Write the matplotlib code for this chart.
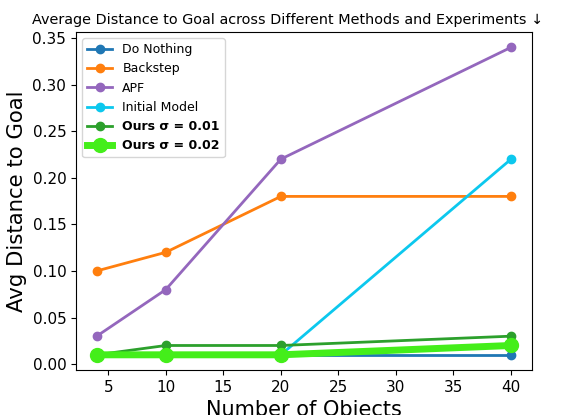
import numpy as np
import matplotlib
matplotlib.use('Agg')
import matplotlib.pyplot as plt

n_objects = [4, 10, 20, 40]
do_nothing = [0.01, 0.01, 0.01, 0.01]
backstep = [0.10, 0.12, 0.18, 0.18]
apf = [0.03, 0.08, 0.22, 0.34]
initial_model = [0.01, 0.01, 0.01, 0.22]
ours_001 = [0.01, 0.02, 0.02, 0.03]
ours_002 = [0.01, 0.01, 0.01, 0.02]

fig, ax = plt.subplots(figsize=(5.78, 4.15), dpi=100)
ax.plot(n_objects, do_nothing, '-o', color='#1f77b4', lw=2, ms=6, label='Do Nothing')
ax.plot(n_objects, backstep, '-o', color='#ff7f0e', lw=2, ms=6, label='Backstep')
ax.plot(n_objects, apf, '-o', color='#9467bd', lw=2, ms=6, label='APF')
ax.plot(n_objects, initial_model, '-o', color='#0cc8ee', lw=2, ms=6, label='Initial Model')
ax.plot(n_objects, ours_001, '-o', color='#2ca02c', lw=2, ms=6, label='Ours σ = 0.01')
ax.plot(n_objects, ours_002, '-o', color='#44ee1a', lw=5, ms=10, label='Ours σ = 0.02')

ax.set_title('Average Distance to Goal across Different Methods and Experiments ↓',
             fontsize=10.4, x=0.465)
ax.set_xlabel('Number of Objects', fontsize=15)
ax.set_ylabel('Avg Distance to Goal', fontsize=15.3)
ax.tick_params(labelsize=11)
ax.set_xticks([5, 10, 15, 20, 25, 30, 35, 40])
ax.set_yticks(np.arange(0, 0.36, 0.05))

leg = ax.legend(loc='upper left', fontsize=9)
for t in leg.get_texts()[4:]:
    t.set_fontweight('bold')

plt.subplots_adjust(left=0.1315, right=0.92, top=0.923, bottom=0.108)
plt.savefig('out.png')
